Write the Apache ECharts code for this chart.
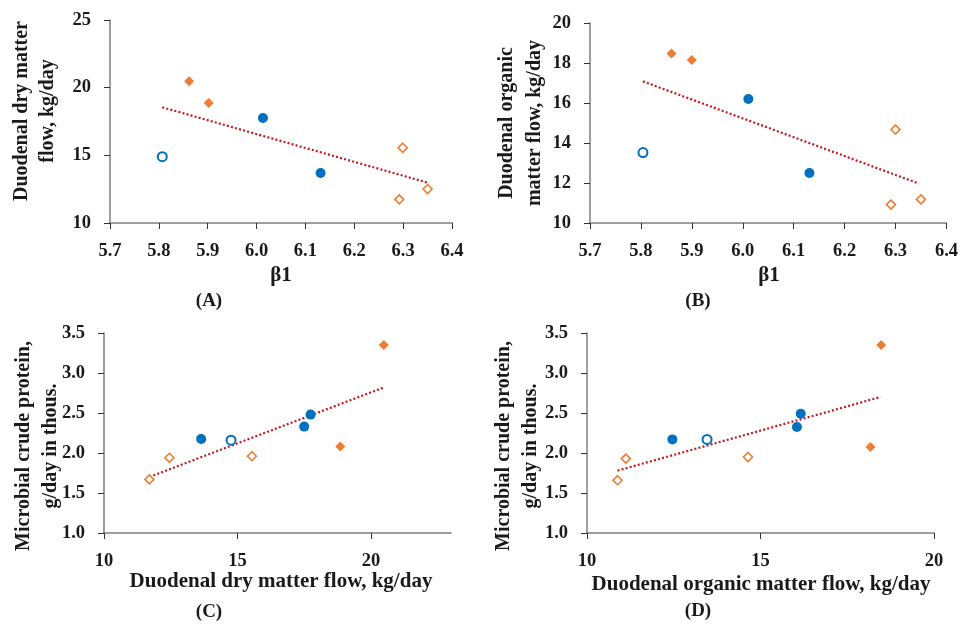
<!DOCTYPE html>
<html>
<head>
<meta charset="utf-8">
<script src="https://cdn.jsdelivr.net/npm/echarts@6/dist/echarts.min.js"></script>
<style>
html,body{margin:0;padding:0;background:#fff;}
#chart{width:961px;height:626px;}
</style>
</head>
<body>
<div id="chart"></div>
<script>
// ---- data ----
// Panel A: beta1 vs duodenal dry matter flow
const aBlueFilled = [[6.013, 17.76], [6.131, 13.69]];
const aBlueOpen = [[5.807, 14.9]];
const aOrangeFilled = [[5.862, 20.47], [5.902, 18.87]];
const aOrangeOpen = [[6.299, 15.56], [6.292, 11.75], [6.350, 12.51]];
const aTrend = [[5.807, 18.55], [6.350, 12.98]];
// Panel B: beta1 vs duodenal organic matter flow
const bBlueFilled = [[6.011, 16.2], [6.131, 12.5]];
const bBlueOpen = [[5.804, 13.52]];
const bOrangeFilled = [[5.86, 18.48], [5.9, 18.15]];
const bOrangeOpen = [[6.3, 14.67], [6.291, 10.92], [6.35, 11.18]];
const bTrend = [[5.804, 17.08], [6.346, 11.97]];
// Panel C: duodenal DM flow vs microbial crude protein
const cBlueFilled = [[13.64, 2.175], [17.5, 2.33], [17.74, 2.48]];
const cBlueOpen = [[14.76, 2.16]];
const cOrangeFilled = [[18.85, 2.08], [20.48, 3.35]];
const cOrangeOpen = [[11.70, 1.67], [12.45, 1.94], [15.54, 1.96]];
const cTrend = [[11.70, 1.70], [20.49, 2.82]];
// Panel D: duodenal OM flow vs microbial crude protein
const dBlueFilled = [[12.46, 2.17], [16.05, 2.325], [16.16, 2.49]];
const dBlueOpen = [[13.46, 2.17]];
const dOrangeFilled = [[18.17, 2.075], [18.48, 3.35]];
const dOrangeOpen = [[10.88, 1.66], [11.12, 1.93], [14.64, 1.95]];
const dTrend = [[10.88, 1.78], [18.46, 2.70]];

// tick labels
const xTicksAB = [5.7, 5.8, 5.9, 6.0, 6.1, 6.2, 6.3, 6.4];
const yTicksA = [10, 15, 20, 25];
const yTicksB = [10, 12, 14, 16, 18, 20];
const yTicksCD = [1.0, 1.5, 2.0, 2.5, 3.0, 3.5];
const xTicksC = [10, 15, 20];
const xTicksD = [10, 15, 20];

// axis titles
const xTitleA = 'β1';
const yTitleA = ['Duodenal dry matter', 'flow, kg/day'];
const xTitleB = 'β1';
const yTitleB = ['Duodenal organic', 'matter flow, kg/day'];
const xTitleC = 'Duodenal dry matter flow, kg/day';
const yTitleC = ['Microbial crude protein,', 'g/day in thous.'];
const xTitleD = 'Duodenal organic matter flow, kg/day';
const yTitleD = ['Microbial crude protein,', 'g/day in thous.'];
const panelLabels = ['(A)', '(B)', '(C)', '(D)'];

// ---- styling ----
const FONT = '"Liberation Serif", "Times New Roman", serif';
const BLUE = '#0070C0';
const ORANGE = '#ED7D31';
const RED = '#C8161D';
const AXIS = '#7F7F7F';
const TXT = '#1a1a1a';

const chart = echarts.init(document.getElementById('chart'), null, {renderer: 'canvas'});

function xAxis(idx, min, max, ticks, fmt, margin) {
  return {
    type: 'value', gridIndex: idx, min: min, max: max,
    splitLine: {show: false},
    axisLine: {show: true, onZero: false, lineStyle: {color: AXIS, width: 1.5}},
    axisTick: {show: true, inside: false, length: 6, customValues: ticks, lineStyle: {color: '#333', width: 1}},
    axisLabel: {customValues: ticks, formatter: fmt, margin: margin, color: TXT,
      fontFamily: FONT, fontWeight: 'bold', fontSize: 18.5}
  };
}
function yAxis(idx, min, max, ticks, fmt, margin) {
  return {
    type: 'value', gridIndex: idx, min: min, max: max,
    splitLine: {show: false},
    axisLine: {show: true, onZero: false, lineStyle: {color: AXIS, width: 1.5}},
    axisTick: {show: true, inside: false, length: 6, customValues: ticks, lineStyle: {color: '#333', width: 1}},
    axisLabel: {customValues: ticks, formatter: fmt, margin: margin, color: TXT,
      fontFamily: FONT, fontWeight: 'bold', fontSize: 18.5}
  };
}
const f1 = v => Number(v).toFixed(1);
const f0 = v => String(Math.round(v));

function panelSeries(idx, blueFilled, blueOpen, orangeFilled, orangeOpen, trend) {
  return [
    {type: 'line', xAxisIndex: idx, yAxisIndex: idx, data: trend, symbol: 'none', silent: true,
      lineStyle: {color: RED, width: 2.2, type: [2, 2.2]}, z: 2},
    {type: 'scatter', xAxisIndex: idx, yAxisIndex: idx, data: blueFilled, symbol: 'circle', symbolSize: 10,
      itemStyle: {color: BLUE, opacity: 1}, z: 3},
    {type: 'scatter', xAxisIndex: idx, yAxisIndex: idx, data: blueOpen, symbol: 'circle', symbolSize: 9,
      itemStyle: {color: '#fff', borderColor: BLUE, borderWidth: 2, opacity: 1}, z: 3},
    {type: 'scatter', xAxisIndex: idx, yAxisIndex: idx, data: orangeFilled, symbol: 'diamond', symbolSize: [10, 10],
      itemStyle: {color: ORANGE, opacity: 1}, z: 3},
    {type: 'scatter', xAxisIndex: idx, yAxisIndex: idx, data: orangeOpen, symbol: 'diamond', symbolSize: [9, 9],
      itemStyle: {color: '#fff', borderColor: ORANGE, borderWidth: 1.6, opacity: 1}, z: 3}
  ];
}

function txt(text, x, y, size, rot) {
  return {
    type: 'text', x: x, y: y, rotation: rot || 0, silent: true,
    style: {text: text, fill: TXT, font: 'bold ' + size + 'px ' + FONT, align: 'center', verticalAlign: 'middle'}
  };
}

const graphics = [
  // axis titles
  txt(xTitleA, 281, 276, 21),
  txt(yTitleA[0], 22, 111, 20, Math.PI / 2),
  txt(yTitleA[1], 48, 111, 20, Math.PI / 2),
  txt(xTitleB, 769, 276, 21),
  txt(yTitleB[0], 507, 123, 20, Math.PI / 2),
  txt(yTitleB[1], 535, 123, 20, Math.PI / 2),
  txt(xTitleC, 281, 582, 21),
  txt(yTitleC[0], 24, 446, 20, Math.PI / 2),
  txt(yTitleC[1], 51, 446, 20, Math.PI / 2),
  txt(xTitleD, 761, 585, 21),
  txt(yTitleD[0], 504, 446, 20, Math.PI / 2),
  txt(yTitleD[1], 531, 446, 20, Math.PI / 2),
  // panel labels
  txt(panelLabels[0], 209, 301, 19),
  txt(panelLabels[1], 698, 301, 19),
  txt(panelLabels[2], 209, 612, 19),
  txt(panelLabels[3], 698, 611, 19)
];

const option = {
  backgroundColor: '#ffffff',
  animation: false,
  grid: [
    {left: 110, top: 20, width: 342, height: 203},
    {left: 590, top: 23, width: 357, height: 200},
    {left: 104, top: 333, width: 347, height: 200},
    {left: 587, top: 333, width: 347, height: 200}
  ],
  xAxis: [
    xAxis(0, 5.7, 6.4, xTicksAB, f1, 19),
    xAxis(1, 5.7, 6.4, xTicksAB, f1, 19),
    xAxis(2, 10, 23, xTicksC, f0, 19),
    xAxis(3, 10, 20, xTicksD, f0, 19)
  ],
  yAxis: [
    yAxis(0, 10, 25, yTicksA, f0, 19),
    yAxis(1, 10, 20, yTicksB, f0, 19),
    yAxis(2, 1.0, 3.5, yTicksCD, f1, 19),
    yAxis(3, 1.0, 3.5, yTicksCD, f1, 19)
  ],
  series: [].concat(
    panelSeries(0, aBlueFilled, aBlueOpen, aOrangeFilled, aOrangeOpen, aTrend),
    panelSeries(1, bBlueFilled, bBlueOpen, bOrangeFilled, bOrangeOpen, bTrend),
    panelSeries(2, cBlueFilled, cBlueOpen, cOrangeFilled, cOrangeOpen, cTrend),
    panelSeries(3, dBlueFilled, dBlueOpen, dOrangeFilled, dOrangeOpen, dTrend)
  ),
  graphic: graphics
};
chart.setOption(option);
</script>
</body>
</html>
